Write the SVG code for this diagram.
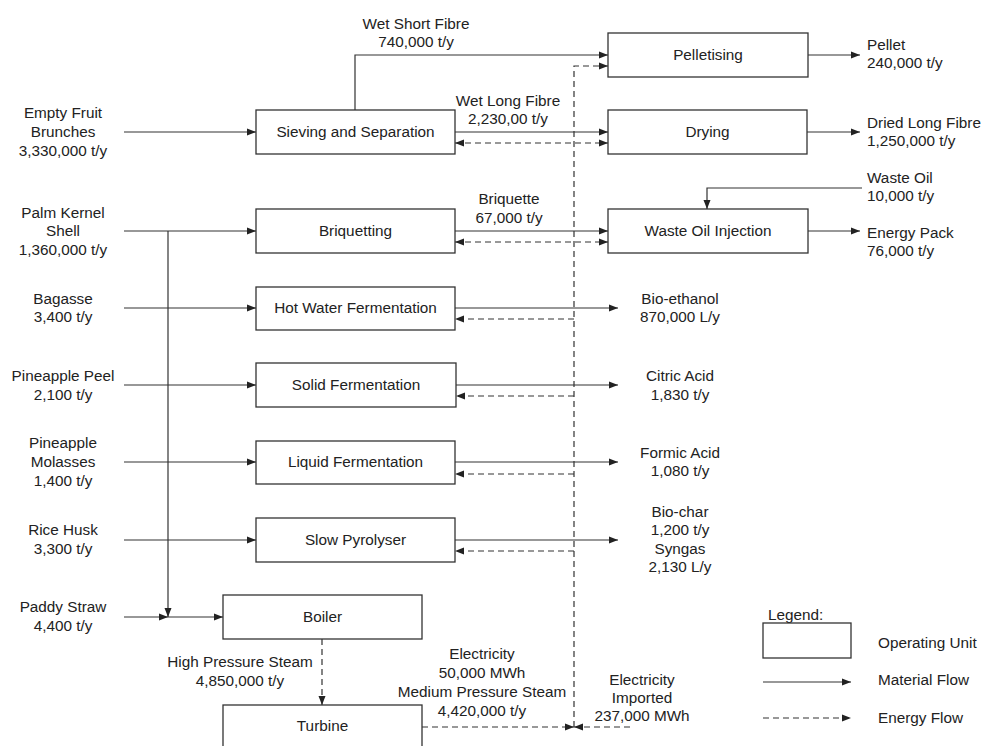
<svg xmlns="http://www.w3.org/2000/svg" width="984" height="746" viewBox="0 0 984 746">
<style>
text{font-family:"Liberation Sans",Arial,sans-serif;font-size:15.3px;fill:#222}
.c{text-anchor:middle}
.box rect{fill:#fff;stroke:#333;stroke-width:1.3}
.m{fill:none;stroke:#333;stroke-width:1.2;marker-end:url(#ah)}
.e{fill:none;stroke:#333;stroke-width:1.2;stroke-dasharray:6 4;marker-end:url(#ah)}
.b{marker-start:url(#ah)}
</style>
<defs>
<marker id="ah" markerUnits="userSpaceOnUse" markerWidth="9" markerHeight="8" refX="9" refY="4" orient="auto-start-reverse"><path d="M0,0.5 L9,4 L0,7.5 z" fill="#222"/></marker>
</defs>
<rect width="984" height="746" fill="#fff"/>
<g id="connectors">
<path class="m" d="M124,132 H256"/>
<path class="m" d="M355,110 V55 H608"/>
<path class="m" d="M455,132 H608"/>
<path class="m" d="M808,55 H860"/>
<path class="m" d="M807,132 H860"/>
<path class="m" d="M124,231 H256"/>
<path class="m" d="M168,231 V617"/>
<path class="m" d="M124,308 H256"/>
<path class="m" d="M124,385 H256"/>
<path class="m" d="M124,462 H256"/>
<path class="m" d="M124,540 H256"/>
<path class="m" d="M124,617 H168"/>
<path class="m" d="M168,617 H223"/>
<path class="m" d="M455,231 H608"/>
<path class="m" d="M862,188 H707 V209"/>
<path class="m" d="M808,231 H860"/>
<path class="m" d="M455,308 H618"/>
<path class="m" d="M456,385 H618"/>
<path class="m" d="M455,462 H618"/>
<path class="m" d="M455,540 H618"/>
<path class="e" d="M574,727 V66 H608"/>
<path class="e b" d="M455,143 H608"/>
<path class="e b" d="M455,242 H608"/>
<path class="e" d="M574,319 H455"/>
<path class="e" d="M574,396 H456"/>
<path class="e" d="M574,474 H455"/>
<path class="e" d="M574,551 H455"/>
<path class="e" d="M322,639 V705"/>
<path class="e" d="M422,727 H574"/>
<path class="e" d="M630,727 H574"/>
</g>
<g id="sieving" class="box"><rect x="256" y="110" width="199" height="44"/><text class="c" x="355.5" y="137">Sieving and Separation</text></g>
<g id="pelletising" class="box"><rect x="608" y="33" width="200" height="44"/><text class="c" x="708" y="60">Pelletising</text></g>
<g id="drying" class="box"><rect x="608" y="110" width="199" height="44"/><text class="c" x="707.5" y="137">Drying</text></g>
<g id="briquetting" class="box"><rect x="256" y="209" width="199" height="44"/><text class="c" x="355.5" y="236">Briquetting</text></g>
<g id="wasteoil" class="box"><rect x="608" y="209" width="200" height="44"/><text class="c" x="708" y="236">Waste Oil Injection</text></g>
<g id="hotwater" class="box"><rect x="256" y="287" width="199" height="43"/><text class="c" x="355.5" y="313">Hot Water Fermentation</text></g>
<g id="solid" class="box"><rect x="256" y="363" width="200" height="44"/><text class="c" x="356" y="390">Solid Fermentation</text></g>
<g id="liquid" class="box"><rect x="256" y="441" width="199" height="43"/><text class="c" x="355.5" y="467">Liquid Fermentation</text></g>
<g id="pyrolyser" class="box"><rect x="256" y="518" width="199" height="44"/><text class="c" x="355.5" y="545">Slow Pyrolyser</text></g>
<g id="boiler" class="box"><rect x="223" y="595" width="199" height="44"/><text class="c" x="322.5" y="622">Boiler</text></g>
<g id="turbine" class="box"><rect x="223" y="705" width="199" height="44"/><text class="c" x="322.5" y="731">Turbine</text></g>
<g id="labels">
<text class="c" x="416" y="29">Wet Short Fibre</text><text class="c" x="416" y="47">740,000 t/y</text>
<text class="c" x="63" y="118">Empty Fruit</text><text class="c" x="63" y="137">Brunches</text><text class="c" x="63" y="156">3,330,000 t/y</text>
<text class="c" x="508" y="106">Wet Long Fibre</text><text class="c" x="508" y="124">2,230,00 t/y</text>
<text x="867" y="50">Pellet</text><text x="867" y="68">240,000 t/y</text>
<text x="867" y="128">Dried Long Fibre</text><text x="867" y="146">1,250,000 t/y</text>
<text x="867" y="183">Waste Oil</text><text x="867" y="201">10,000 t/y</text>
<text x="867" y="238">Energy Pack</text><text x="867" y="256">76,000 t/y</text>
<text class="c" x="509" y="204">Briquette</text><text class="c" x="509" y="223">67,000 t/y</text>
<text class="c" x="63" y="218">Palm Kernel</text><text class="c" x="63" y="236">Shell</text><text class="c" x="63" y="255">1,360,000 t/y</text>
<text class="c" x="63" y="304">Bagasse</text><text class="c" x="63" y="322">3,400 t/y</text>
<text class="c" x="63" y="381">Pineapple Peel</text><text class="c" x="63" y="400">2,100 t/y</text>
<text class="c" x="63" y="448">Pineapple</text><text class="c" x="63" y="467">Molasses</text><text class="c" x="63" y="486">1,400 t/y</text>
<text class="c" x="63" y="535">Rice Husk</text><text class="c" x="63" y="554">3,300 t/y</text>
<text class="c" x="63" y="612">Paddy Straw</text><text class="c" x="63" y="631">4,400 t/y</text>
<text class="c" x="240" y="667">High Pressure Steam</text><text class="c" x="240" y="686">4,850,000 t/y</text>
<text class="c" x="680" y="304">Bio-ethanol</text><text class="c" x="680" y="322">870,000 L/y</text>
<text class="c" x="680" y="381">Citric Acid</text><text class="c" x="680" y="400">1,830 t/y</text>
<text class="c" x="680" y="458">Formic Acid</text><text class="c" x="680" y="476">1,080 t/y</text>
<text class="c" x="680" y="517">Bio-char</text><text class="c" x="680" y="535">1,200 t/y</text><text class="c" x="680" y="554">Syngas</text><text class="c" x="680" y="572">2,130 L/y</text>
<text class="c" x="482" y="659">Electricity</text><text class="c" x="482" y="678">50,000 MWh</text><text class="c" x="482" y="697">Medium Pressure Steam</text><text class="c" x="482" y="716">4,420,000 t/y</text>
<text class="c" x="642" y="685">Electricity</text><text class="c" x="642" y="703">Imported</text><text class="c" x="642" y="721">237,000 MWh</text>
</g>
<g id="legend">
<text x="768" y="620">Legend:</text>
<rect x="763" y="623" width="88" height="35" fill="#fff" stroke="#333" stroke-width="1.3"/>
<text x="878" y="648">Operating Unit</text>
<path class="m" d="M763,682 H851"/>
<text x="878" y="685">Material Flow</text>
<path class="e" d="M763,718 H851"/>
<text x="878" y="723">Energy Flow</text>
</g>
</svg>
